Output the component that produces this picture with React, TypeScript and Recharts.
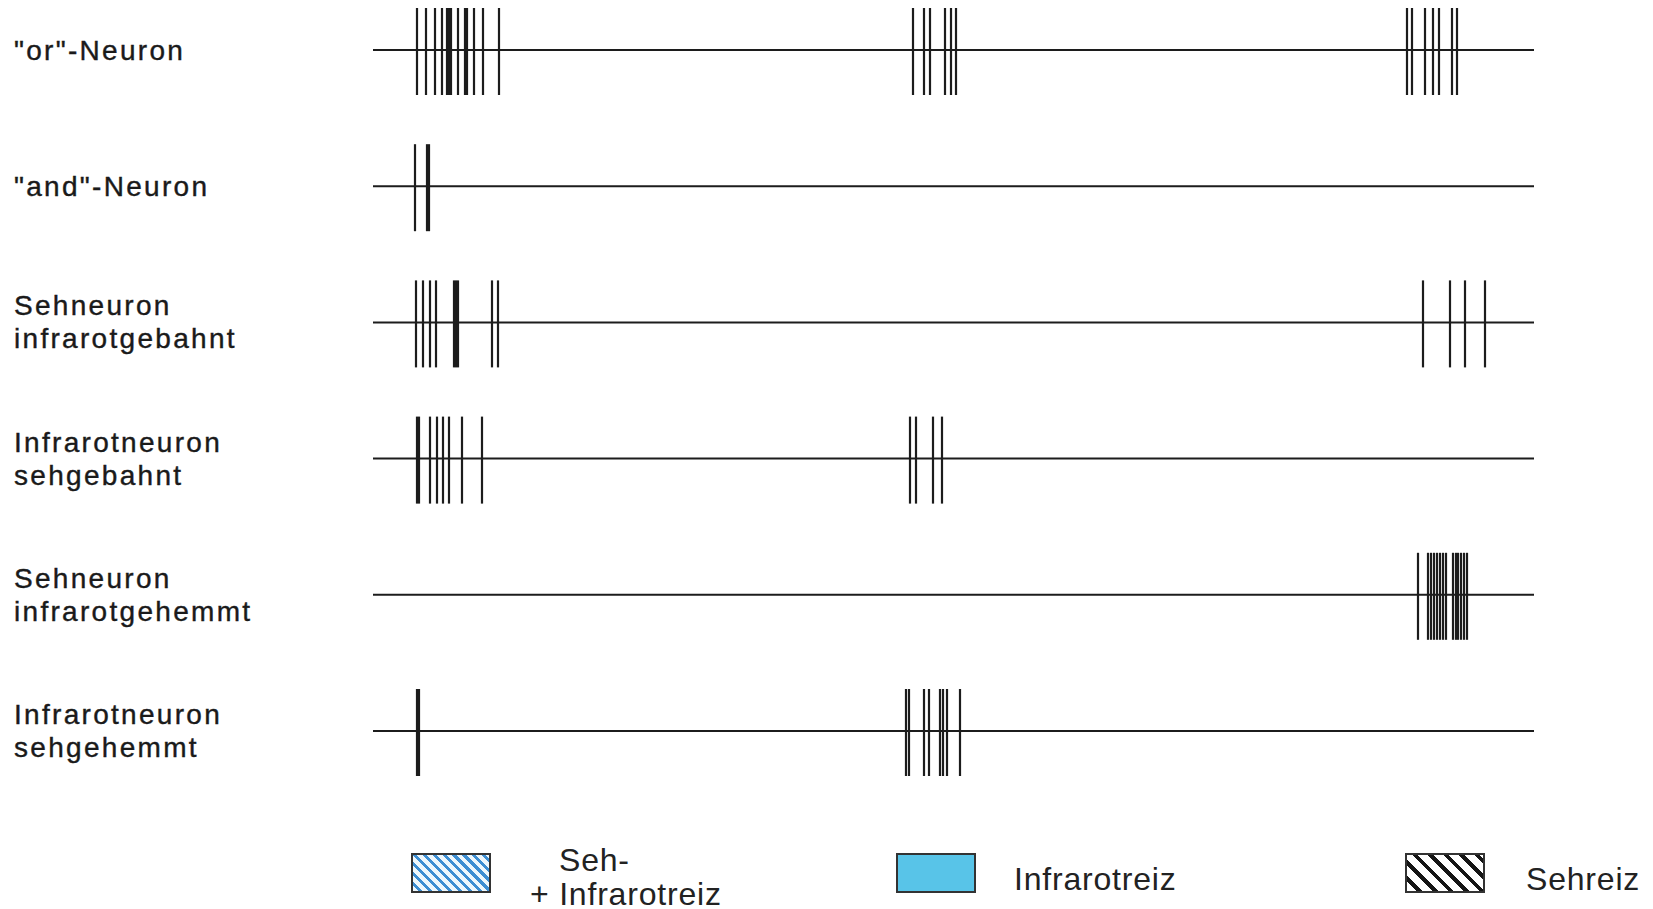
import { ScatterChart, Scatter, XAxis, YAxis, ReferenceLine, Legend } from "recharts";

// length of every recording trace (ms)
const TRACE_END = 1161;

const rowLabels = [
  ['"or"-Neuron'],
  ['"and"-Neuron'],
  ["Sehneuron", "infrarotgebahnt"],
  ["Infrarotneuron", "sehgebahnt"],
  ["Sehneuron", "infrarotgehemmt"],
  ["Infrarotneuron", "sehgehemmt"],
];

// spike times in ms from trace start
const orNeuron = [
  44, 53, 62, 69, 74, 76, 78, 85, 92, 94, 101, 110, 126,
  540, 551, 557, 572, 578, 583,
  1034, 1039, 1052, 1060, 1066, 1079, 1084,
];
const andNeuron = [42, 54, 56];
const sehInfrarotGebahnt = [43, 50, 57, 63, 81, 83, 85, 119, 125, 1050, 1077, 1092, 1112];
const infrarotSehGebahnt = [44, 46, 57, 64, 70, 76, 89, 109, 537, 543, 560, 569];
const sehInfrarotGehemmt = [
  1045, 1055, 1058, 1061, 1064, 1067, 1070, 1073,
  1080, 1083, 1085, 1088, 1091, 1094,
];
const infrarotSehGehemmt = [44, 46, 533, 536, 551, 556, 567, 570, 574, 587];

const spikeTrains = [
  orNeuron,
  andNeuron,
  sehInfrarotGebahnt,
  infrarotSehGebahnt,
  sehInfrarotGehemmt,
  infrarotSehGehemmt,
];

const stimulusLabels = [["Seh-", "+ Infrarotreiz"], ["Infrarotreiz"], ["Sehreiz"]];

const INK = "#1c1c1c";

function Spike(props: any) {
  const { cx, cy } = props;
  if (cx == null || cy == null) return null;
  return <line x1={cx} x2={cx} y1={cy - 42} y2={cy + 45} stroke={INK} strokeWidth={2.2} />;
}

function RowLabel(props: any) {
  const { y, payload } = props;
  const lines = rowLabels[payload.value] || [];
  const start = y - ((lines.length - 1) * 33) / 2;
  return (
    <text
      x={14}
      fill="#1a1a1a"
      stroke="#1a1a1a"
      strokeWidth={0.4}
      fontFamily="Liberation Sans, Arial, sans-serif"
      fontSize={28}
      letterSpacing={2.3}
      textAnchor="start"
    >
      {lines.map((l, i) => (
        <tspan key={i} x={14} y={start + i * 33} dominantBaseline="central">
          {l}
        </tspan>
      ))}
    </text>
  );
}

const keyBoxes = [
  {
    left: 411,
    background: "repeating-linear-gradient(45deg, #eef7fc 0 4px, #3d8ed2 4px 7px)",
  },
  { left: 896, background: "#58c4e8" },
  {
    left: 1405,
    background: "repeating-linear-gradient(45deg, #ffffff 0 7px, #151515 7px 11px)",
  },
];
const keyTextLeft = [530, 1014, 1526];

function StimulusKey() {
  return (
    <div
      style={{
        position: "relative",
        width: 1653,
        height: 60,
        fontFamily: "Liberation Sans, Arial, sans-serif",
        fontSize: 32,
        letterSpacing: 0.8,
        color: "#222",
      }}
    >
      {stimulusLabels.map((lines, i) => (
        <div key={i}>
          <div
            style={{
              position: "absolute",
              left: keyBoxes[i].left,
              top: 11,
              width: 80,
              height: 40,
              boxSizing: "border-box",
              border: "2px solid #333",
              background: keyBoxes[i].background,
            }}
          />
          <div
            style={{
              position: "absolute",
              left: keyTextLeft[i],
              top: lines.length > 1 ? 1 : 20,
              lineHeight: "34px",
              whiteSpace: "nowrap",
            }}
          >
            {lines.map((l, j) => (
              <div key={j} style={{ marginLeft: lines.length > 1 && j === 0 ? 29 : 0 }}>
                {l}
              </div>
            ))}
          </div>
        </div>
      ))}
    </div>
  );
}

export default function App() {
  return (
    <div style={{ position: "absolute", left: 0, top: 0, width: 1653, height: 909, background: "#fff" }}>
      <ScatterChart width={1653} height={909} margin={{ top: 50, right: 119, bottom: 118, left: 0 }}>
        <XAxis type="number" dataKey="t" domain={[0, TRACE_END]} hide />
        <YAxis
          type="number"
          dataKey="row"
          domain={[0, 5]}
          reversed
          ticks={[0, 1, 2, 3, 4, 5]}
          width={373}
          axisLine={false}
          tickLine={false}
          tick={<RowLabel />}
          interval={0}
        />
        {rowLabels.map((_, i) => (
          <ReferenceLine key={i} y={i} stroke={INK} strokeWidth={2} />
        ))}
        {spikeTrains.map((train, i) => (
          <Scatter
            key={i}
            data={train.map((t) => ({ t, row: i }))}
            shape={<Spike />}
            isAnimationActive={false}
          />
        ))}
        <Legend
          verticalAlign="bottom"
          content={<StimulusKey />}
          wrapperStyle={{ left: 0, top: 842, bottom: "auto", width: 1653 }}
        />
      </ScatterChart>
    </div>
  );
}
